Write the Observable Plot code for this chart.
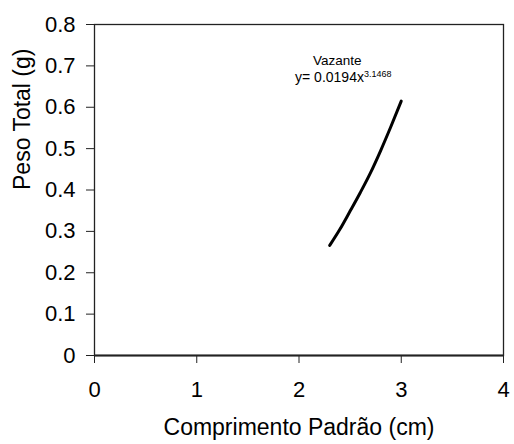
<!DOCTYPE html>
<html>
<head>
<meta charset="utf-8">
<script src="https://cdn.jsdelivr.net/npm/d3@7"></script>
<script src="https://cdn.jsdelivr.net/npm/@observablehq/plot@0.6"></script>
<style>
  html, body { margin: 0; padding: 0; background: #fff; }
  #chart svg { font-family: "Liberation Sans", Arial, sans-serif; }
</style>
</head>
<body>
<div id="chart"></div>
<script>
// Curve (Comprimento Padrão cm vs Peso Total g)
const lengthCm = [2.3, 2.4, 2.5, 2.6, 2.7, 2.8, 2.9, 3.0];
const weightG  = [0.266, 0.305, 0.349, 0.394, 0.442, 0.496, 0.554, 0.615];

const xTicks = [0, 1, 2, 3, 4];
const xTickLabels = ["0", "1", "2", "3", "4"];
const yTicks = [0, 0.1, 0.2, 0.3, 0.4, 0.5, 0.6, 0.7, 0.8];
const yTickLabels = ["0", "0.1", "0.2", "0.3", "0.4", "0.5", "0.6", "0.7", "0.8"];

const xTitle = "Comprimento Padrão (cm)";
const yTitle = "Peso Total (g)";
const seriesName = ["Vazante"];
const equationMain = ["y= 0.0194x"];
const equationExp = ["3.1468"];
// annotation anchor positions in data units (baselines)
const seriesNamePos = [{x: 2.375, y: 0.701}];
const equationPos = [{x: 2.635, y: 0.66}];
const exponentPos = [{x: 2.635, y: 0.672}];

const pts = lengthCm.map((x, i) => ({x, y: weightG[i]}));

const chart = Plot.plot({
  width: 514,
  height: 444,
  marginLeft: 94,
  marginRight: 11,
  marginTop: 24,
  marginBottom: 89,
  x: {domain: [0, 4]},
  y: {domain: [0, 0.8]},
  style: {fontFamily: "'Liberation Sans', Arial, sans-serif", color: "#000", background: "#fff"},
  marks: [
    Plot.frame({stroke: "#222", strokeWidth: 1.3}),
    Plot.ruleY([0], {stroke: "#222", strokeWidth: 2}),
    Plot.axisX({ticks: xTicks, tickFormat: (d) => xTickLabels[xTicks.indexOf(d)], tickSize: 8, tickPadding: 18, fontSize: 22, label: null, stroke: "#222"}),
    Plot.axisY({ticks: yTicks, tickFormat: (d) => yTickLabels[yTicks.findIndex(t => Math.abs(t - d) < 1e-9)], tickSize: 8, tickPadding: 11, fontSize: 22, label: null, stroke: "#222"}),
    Plot.line(pts, {x: "x", y: "y", stroke: "#000", strokeWidth: 3, curve: "monotone-x"}),
    Plot.text([xTitle], {frameAnchor: "bottom", dy: 79, text: d => d, fontSize: 23, fill: "#000"}),
    Plot.text([yTitle], {frameAnchor: "left", dx: -72, rotate: -90, text: d => d, fontSize: 23, fill: "#000"}),
    Plot.text(seriesNamePos, {x: "x", y: "y", text: (d, i) => seriesName[i], fontSize: 13.5, lineAnchor: "bottom", fill: "#000"}),
    Plot.text(equationPos, {x: "x", y: "y", text: (d, i) => equationMain[i], fontSize: 14, lineAnchor: "bottom", textAnchor: "end", fill: "#000"}),
    Plot.text(exponentPos, {x: "x", y: "y", text: (d, i) => equationExp[i], fontSize: 9, lineAnchor: "bottom", textAnchor: "start", fill: "#000"})
  ]
});
document.getElementById("chart").appendChild(chart);
</script>
</body>
</html>
